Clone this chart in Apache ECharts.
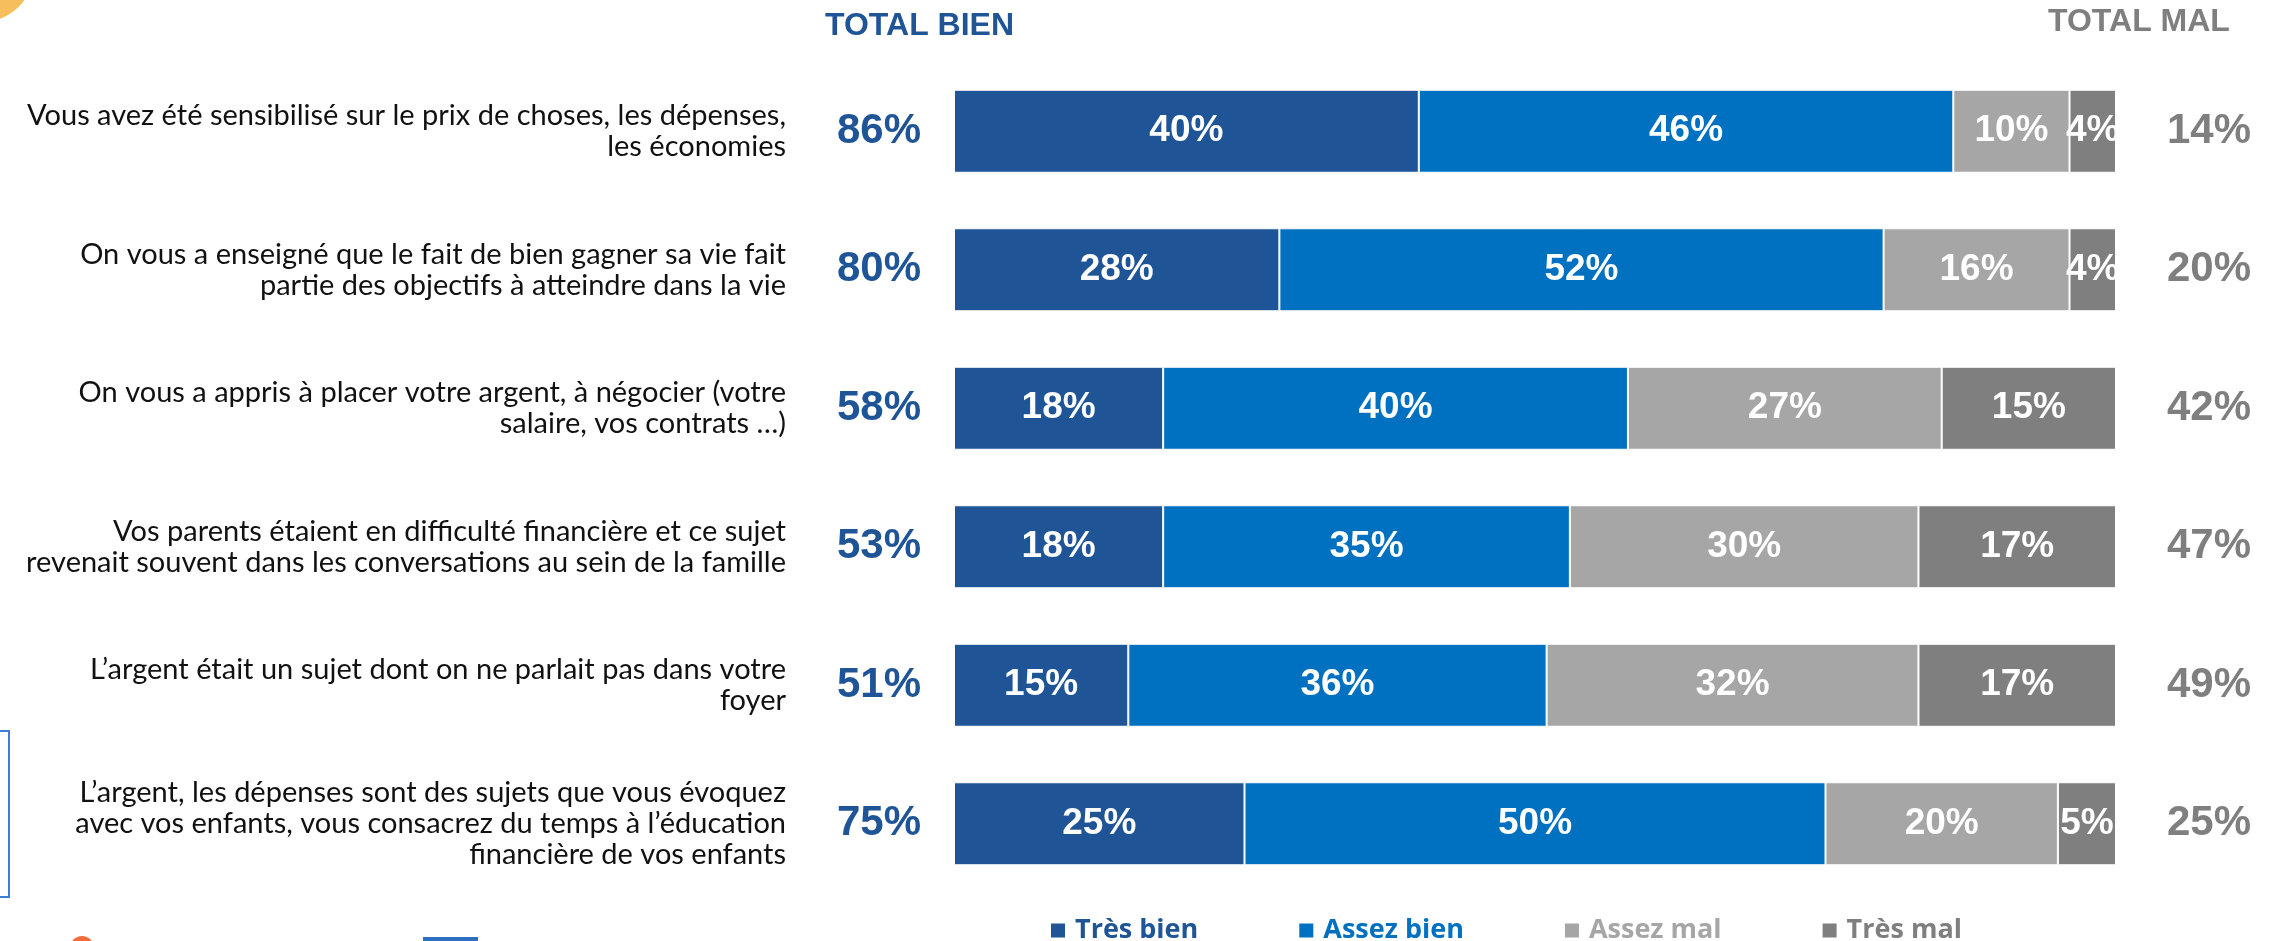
<!DOCTYPE html>
<html>
<head>
<meta charset="utf-8">
<script src="https://cdn.jsdelivr.net/npm/echarts@6/dist/echarts.min.js"></script>
<style>html,body{margin:0;padding:0;background:#fff;}#c{width:2279px;height:941px;}</style>
</head>
<body>
<div id="c"></div>
<script>
const categories = [
  "Vous avez été sensibilisé sur le prix de choses, les dépenses,\nles économies",
  "On vous a enseigné que le fait de bien gagner sa vie fait\npartie des objectifs à atteindre dans la vie",
  "On vous a appris à placer votre argent, à négocier (votre\nsalaire, vos contrats …)",
  "Vos parents étaient en difficulté financière et ce sujet\nrevenait souvent dans les conversations au sein de la famille",
  "L’argent était un sujet dont on ne parlait pas dans votre\nfoyer",
  "L’argent, les dépenses sont des sujets que vous évoquez\navec vos enfants, vous consacrez du temps à l’éducation\nfinancière de vos enfants"
];
const seriesNames = ["Très bien", "Assez bien", "Assez mal", "Très mal"];
const tresBien = [40, 28, 18, 18, 15, 25];
const assezBien = [46, 52, 40, 35, 36, 50];
const assezMal = [10, 16, 27, 30, 32, 20];
const tresMal = [4, 4, 15, 17, 17, 5];
const totalBien = [86, 80, 58, 53, 51, 75];
const totalMal = [14, 20, 42, 47, 49, 25];
const headerBien = "TOTAL BIEN";
const headerMal = "TOTAL MAL";

const colors = ["#1F5496", "#0070C0", "#A6A6A6", "#7F7F7F"];
const valueSets = [tresBien, assezBien, assezMal, tresMal];

const chart = echarts.init(document.getElementById('c'));
const hiddenAxis = { axisLine: { show: false }, axisTick: { show: false }, splitLine: { show: false } };

const option = {
  backgroundColor: '#ffffff',
  animation: false,
  grid: { left: 954, right: 163, top: 62, bottom: 48, outerBoundsMode: 'none' },
  xAxis: { type: 'value', min: 0, max: 100, show: false },
  yAxis: [
    Object.assign({
      type: 'category', data: categories, inverse: true, position: 'left',
      axisLabel: { margin: 168, align: 'right', fontFamily: 'Lato', fontSize: 29, lineHeight: 31, color: '#111111' }
    }, hiddenAxis),
    Object.assign({
      type: 'category', data: totalBien.map(v => v + '%'), inverse: true, position: 'left',
      axisLabel: { margin: 75, align: 'center', fontFamily: 'Liberation Sans, Arial', fontWeight: 'bold', fontSize: 42, color: '#1F5496' }
    }, hiddenAxis),
    Object.assign({
      type: 'category', data: totalMal.map(v => v + '%'), inverse: true, position: 'right',
      axisLabel: { margin: 93, align: 'center', fontFamily: 'Liberation Sans, Arial', fontWeight: 'bold', fontSize: 42, color: '#7F7F7F' }
    }, hiddenAxis)
  ],
  legend: {
    left: 1044, top: 912, itemGap: 99, itemWidth: 16, itemHeight: 16, icon: 'rect',
    textStyle: { fontFamily: 'Open Sans', fontWeight: 'bold', fontSize: 27, padding: [0, 0, 0, 4] },
    data: seriesNames.map((n, i) => ({ name: n, textStyle: { color: colors[i] } }))
  },
  series: seriesNames.map((n, i) => ({
    name: n, type: 'bar', stack: 'total', yAxisIndex: 0, barWidth: 83,
    data: valueSets[i],
    itemStyle: { color: colors[i], borderColor: '#ffffff', borderWidth: 1 },
    label: {
      show: true, position: 'inside', formatter: '{c}%', color: '#ffffff',
      fontFamily: 'Liberation Sans, Arial', fontWeight: 'bold', fontSize: 37, overflow: 'none'
    },
    emphasis: { disabled: true }
  })),
  graphic: [
    { type: 'text', left: 825, top: 10, style: { text: headerBien, fontFamily: 'Liberation Sans, Arial', fontWeight: 'bold', fontSize: 32, fill: '#1F5496' } },
    { type: 'text', left: 2048, top: 6, style: { text: headerMal, fontFamily: 'Liberation Sans, Arial', fontWeight: 'bold', fontSize: 32, fill: '#7F7F7F' } },
    { type: 'circle', shape: { cx: -18, cy: -30, r: 52 }, style: { fill: '#F7BE5C' } },
    { type: 'polyline', shape: { points: [[0, 731], [9, 731], [9, 897], [0, 897]] }, style: { stroke: '#3A7FD5', lineWidth: 2, fill: null } },
    { type: 'circle', shape: { cx: 82, cy: 948, r: 12 }, style: { fill: '#F26B3A' } },
    { type: 'rect', shape: { x: 423, y: 937, width: 55, height: 6 }, style: { fill: '#2F6FC0' } }
  ]
};
chart.setOption(option);
</script>
</body>
</html>
